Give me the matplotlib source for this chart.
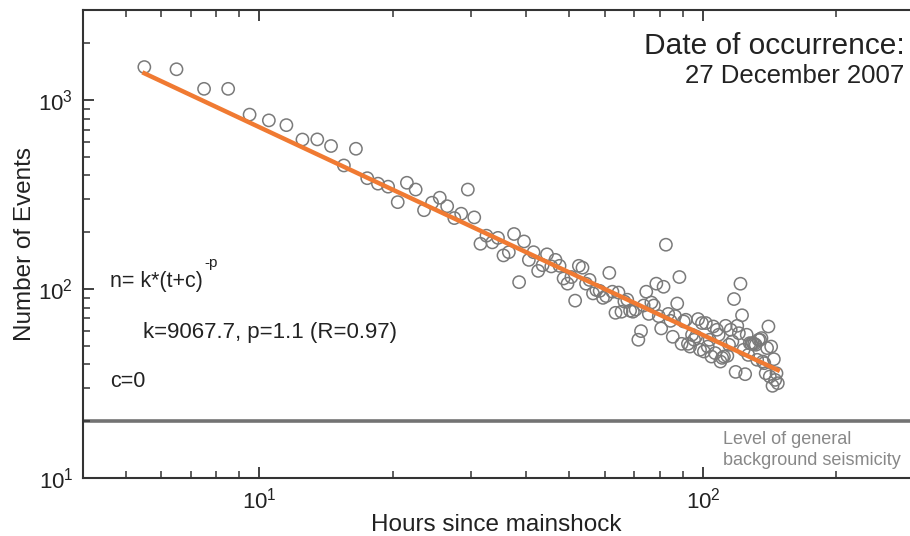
import numpy as np
import matplotlib
matplotlib.use("Agg")
import matplotlib.pyplot as plt
from matplotlib.ticker import LogLocator, NullFormatter
from matplotlib.transforms import offset_copy

plt.rcParams['font.family'] = ['Liberation Sans', 'DejaVu Sans']
plt.rcParams['mathtext.fontset'] = 'custom'
plt.rcParams['mathtext.rm'] = 'Liberation Sans'

# hourly aftershock counts, bins centred on the half hour
hours = np.arange(5.5, 148.0, 1.0)
events = [
    1500, 1460, 1150, 1150, 840, 783, 739, 620, 621, 573,
    452, 554, 387, 362, 349, 289, 366, 337, 262, 287,
    305, 275, 238, 251, 337, 240, 174, 192, 177, 187,
    151, 157, 196, 109, 179, 143, 157, 125, 134, 153,
    132, 143, 133, 114, 107, 116, 87, 133, 130, 107,
    112, 95, 99, 98, 90, 92, 122, 97, 75, 96,
    76, 86, 88, 77, 76, 78, 54, 60, 82, 97,
    74, 85, 82, 107, 72, 62, 103, 172, 74, 68,
    56, 72, 84, 116, 51.4, 67.5, 68.9, 51.4, 49.7, 57.4,
    54.0, 56.2, 69.5, 47.8, 66.2, 46.8, 66.2, 49.7, 54.0, 44.0,
    63.5, 45.9, 61.0, 57.4, 41.4, 43.3, 44.0, 64.0, 44.4, 50.8,
    61.0, 52.9, 88.7, 36.5, 64.0, 58.5, 106.9, 72.8, 47.8, 35.5,
    57.4, 44.9, 51.8, 51.4, 51.8, 51.4, 50.8, 42.3, 54.0, 54.0,
    55.1, 41.4, 40.6, 35.9, 48.8, 63.5, 34.5, 49.7, 30.8, 42.6,
    33.1, 35.9, 31.8,
]

# Omori law fit parameters
k = 9067.7
p = 1.1
c = 0
background = 20

fig = plt.figure(figsize=(9.1, 5.36), dpi=100)
ax = fig.add_axes([0.0912, 0.108, 0.9088, 0.873])

ax.scatter(hours, events, s=78, facecolors='none', edgecolors='#7a7a7a',
           linewidths=1.1, zorder=2)

t_fit = np.linspace(hours[0], hours[-1], 200)
ax.plot(t_fit, k * (t_fit + c) ** (-p), color='#f07a32', lw=3.2, zorder=3)

ax.axhline(background, color='#737373', lw=2.6, zorder=1)

ax.set_xscale('log')
ax.set_yscale('log')
ax.set_xlim(4, 293)
ax.set_ylim(10, 3000)

ax.spines['right'].set_visible(False)
for s in ['left', 'bottom', 'top']:
    ax.spines[s].set_color('#333333')
    ax.spines[s].set_linewidth(1.5)

ax.xaxis.set_major_locator(LogLocator(base=10, numticks=10))
ax.xaxis.set_minor_locator(LogLocator(base=10, subs=np.arange(2, 10), numticks=10))
ax.xaxis.set_minor_formatter(NullFormatter())
ax.yaxis.set_minor_formatter(NullFormatter())
ax.tick_params(which='both', direction='in', top=True, right=False,
               color='#333333', labelsize=16, labelcolor='#222222')
ax.tick_params(which='major', length=8, width=1.3, pad=7)
ax.tick_params(which='minor', length=5, width=1.1)

ax.set_xlabel('Hours since mainshock', fontsize=17.5, color='#222222', labelpad=0)
ax.set_ylabel('Number of Events', fontsize=17.5, color='#222222', labelpad=2)

fig.text(0.994, 0.915, 'Date of occurrence:', ha='right', va='center',
         fontsize=21.5, color='#222222')
fig.text(0.994, 0.858, '27 December 2007', ha='right', va='center',
         fontsize=18.5, color='#222222')

# formula with a plain hyphen in the exponent
formula = fig.text(0.121, 0.474, 'n= k*(t+c)', ha='left', va='center',
                   fontsize=15.5, color='#222222')
fig.canvas.draw()
bb = formula.get_window_extent().transformed(fig.transFigure.inverted())
fig.text(bb.x1 + 0.002, 0.474 + 0.022, '-p', ha='left', va='bottom',
         fontsize=11, color='#222222')

fig.text(0.157, 0.379, 'k=9067.7, p=1.1 (R=0.97)', ha='left', va='center',
         fontsize=16, color='#222222')
fig.text(0.121, 0.289, 'c=0', ha='left', va='center',
         fontsize=15.5, color='#222222')

fig.text(0.794, 0.160, 'Level of general\nbackground seismicity', ha='left',
         va='center', fontsize=13, color='#888888', linespacing=1.3)

fig.savefig('out.png', dpi=100)
